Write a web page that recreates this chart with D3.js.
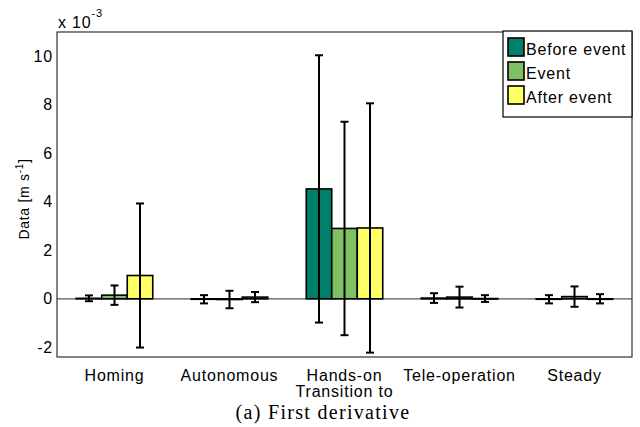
<!DOCTYPE html>
<html>
<head>
<meta charset="utf-8">
<script src="https://cdn.jsdelivr.net/npm/d3@7"></script>
<style>
  html, body { margin: 0; padding: 0; background: #fff; }
  svg { display: block; }
  text { font-family: "Liberation Sans", Arial, Helvetica, sans-serif; fill: #000; }
</style>
</head>
<body>
<svg id="chart" width="640" height="427"></svg>
<script>
// ---- data (values in units of 10^-3 m s^-1) ----
const categories = ["Homing", "Autonomous", "Transition to\nHands-on", "Tele-operation", "Steady"];
const categoryLines = [["Homing"], ["Autonomous"], ["Hands-on", "Transition to"], ["Tele-operation"], ["Steady"]];
const seriesNames = ["Before event", "Event", "After event"];
const seriesColors = ["#00806a", "#80c064", "#ffff66"];
const beforeMean = [0.02, -0.02, 4.53, 0.03, -0.02];
const beforeErr  = [0.12, 0.17, 5.51, 0.20, 0.17];
const eventMean  = [0.15, -0.03, 2.90, 0.07, 0.09];
const eventErr   = [0.40, 0.36, 4.40, 0.43, 0.42];
const afterMean  = [0.96, 0.07, 2.92, 0.01, 0.00];
const afterErr   = [2.97, 0.21, 5.14, 0.14, 0.19];
const yTicks = [-2, 0, 2, 4, 6, 8, 10];
const yDomain = [-2.4, 11];

const means = [beforeMean, eventMean, afterMean];
const errs = [beforeErr, eventErr, afterErr];

const svg = d3.select("#chart");
const L = 57, R = 632, T = 32, B = 357;
const LS = "0.8px";

const x0 = d3.scaleBand().domain(categories).range([L, R]).paddingInner(0).paddingOuter(0);
const x1 = d3.scaleBand().domain(seriesNames).range([0, x0.bandwidth()]).paddingInner(0).paddingOuter(0.755);
const y = d3.scaleLinear().domain(yDomain).range([B, T]);

// zero baseline
svg.append("line")
  .attr("x1", L).attr("x2", R).attr("y1", y(0)).attr("y2", y(0))
  .attr("stroke", "#555").attr("stroke-width", 1.2);

const rows = [];
categories.forEach((c, i) => {
  seriesNames.forEach((s, j) => {
    rows.push({ c, s, j, m: means[j][i], e: errs[j][i] });
  });
});

svg.append("g").selectAll("rect.bar").data(rows).join("rect")
  .attr("class", "bar")
  .attr("x", d => x0(d.c) + x1(d.s))
  .attr("width", x1.bandwidth())
  .attr("y", d => Math.min(y(d.m), y(0)))
  .attr("height", d => Math.max(Math.abs(y(d.m) - y(0)), 0.5))
  .attr("fill", d => seriesColors[d.j])
  .attr("stroke", "#000").attr("stroke-width", 1.6);

// error bars
const cap = 4;
const eb = svg.append("g").attr("stroke", "#000").attr("stroke-width", 2).attr("fill", "none");
rows.forEach(d => {
  const cx = x0(d.c) + x1(d.s) + x1.bandwidth() / 2;
  const yt = y(d.m + d.e), yb = y(d.m - d.e);
  eb.append("line").attr("x1", cx).attr("x2", cx).attr("y1", yt).attr("y2", yb);
  eb.append("line").attr("x1", cx - cap).attr("x2", cx + cap).attr("y1", yt).attr("y2", yt);
  eb.append("line").attr("x1", cx - cap).attr("x2", cx + cap).attr("y1", yb).attr("y2", yb);
});

// axes box
svg.append("rect").attr("x", L).attr("y", T).attr("width", R - L).attr("height", B - T)
  .attr("fill", "none").attr("stroke", "#333").attr("stroke-width", 1.2);

// y axis ticks/labels
const yAxis = d3.axisLeft(y).tickValues(yTicks).tickSize(0).tickPadding(4).tickFormat(d => String(d));
const ya = svg.append("g").attr("transform", `translate(${L},0)`).call(yAxis);
ya.select(".domain").remove();
ya.selectAll("text").attr("font-size", 16).attr("font-family", "Liberation Sans, Arial, sans-serif")
  .attr("fill", "#000").style("letter-spacing", LS);

// x labels (multi-line labels as one text element with tspans)
const xl = svg.append("g");
categories.forEach((c, i) => {
  const cx = x0(c) + x0.bandwidth() / 2;
  const t = xl.append("text").attr("x", cx).attr("y", 381)
    .attr("text-anchor", "middle").attr("font-size", 16).style("letter-spacing", LS);
  categoryLines[i].forEach((line, k) => {
    t.append("tspan").attr("x", cx).attr("dy", k === 0 ? 0 : 16).text(line);
  });
});

// exponent label
const ex = svg.append("text").attr("x", 58).attr("y", 28).attr("font-size", 16).style("letter-spacing", LS);
ex.append("tspan").text("x 10");
ex.append("tspan").attr("dy", -11).attr("font-size", 11).text("-3");

// y axis title
const yt = svg.append("text").attr("transform", "translate(29,199) rotate(-90)")
  .attr("text-anchor", "middle").attr("font-size", 14).style("letter-spacing", "0.7px");
yt.append("tspan").text("Data [m s");
yt.append("tspan").attr("dy", -6).attr("font-size", 10).text("-1");
yt.append("tspan").attr("dy", 6).text("]");

// legend
const lg = svg.append("g");
lg.append("rect").attr("x", 503).attr("y", 31).attr("width", 129).attr("height", 86)
  .attr("fill", "#fff").attr("stroke", "#000").attr("stroke-width", 1.2);
seriesNames.forEach((s, j) => {
  const yy = 38 + j * 24;
  lg.append("rect").attr("x", 508).attr("y", yy).attr("width", 16).attr("height", 18)
    .attr("fill", seriesColors[j]).attr("stroke", "#000").attr("stroke-width", 1.6);
  lg.append("text").attr("x", 526).attr("y", yy + 17).attr("font-size", 16)
    .style("letter-spacing", LS).text(s);
});

// caption
svg.append("text").attr("x", 323).attr("y", 419).attr("text-anchor", "middle")
  .attr("font-size", 20)
  .style("font-family", "'Liberation Serif', 'Times New Roman', serif")
  .style("letter-spacing", "1.3px")
  .text("(a) First derivative");
</script>
</body>
</html>
